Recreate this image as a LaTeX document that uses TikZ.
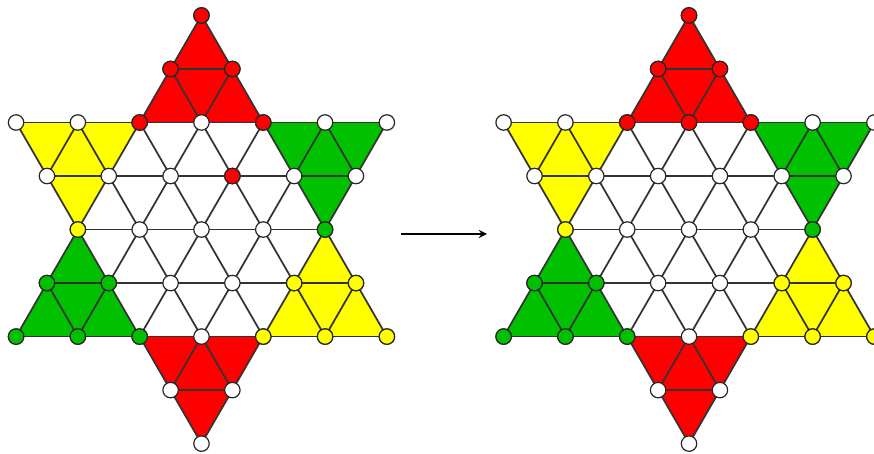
\documentclass[tikz,border=0pt]{standalone}
\usetikzlibrary{arrows}

\definecolor{rouge}{RGB}{255,0,0}
\definecolor{jaune}{RGB}{255,255,0}
\definecolor{vert}{RGB}{0,192,0}

\tikzset{
  ligne/.style={black!80, line width=0.8pt},
  trou/.style={draw=black!85, line width=0.55pt, fill=#1},
  trou/.default=white
}

% Plateau : branches, lignes, trous (#1 = trous rouges)
\newcommand{\plateau}[1]{%
  \foreach \ang/\coul in {0/rouge,60/jaune,120/vert,180/rouge,240/jaune,300/vert}
    \fill[\coul, rotate=\ang] (0,3.464) -- (-1,1.732) -- (1,1.732) -- cycle;
  \foreach \ang in {0,60,120}
    \foreach \r/\l in {3/0.5,2/3,1/2.5,0/2,-1/2.5,-2/3,-3/0.5}
      \draw[ligne, rotate=\ang] (-\l,\r*0.866) -- (\l,\r*0.866);
  \foreach \r/\liste in {4/{0},3/{-1,1},2/{-6,-4,-2,0,2,4,6},1/{-5,-3,-1,1,3,5},0/{-4,-2,0,2,4},-1/{-5,-3,-1,1,3,5},-2/{-6,-4,-2,0,2,4,6},-3/{-1,1},-4/{0}}
    \foreach \c in \liste
      \draw[trou] (\c*0.5,\r*0.866) circle (0.125);
  % Pions
  \foreach \c/\r in {#1}
    \draw[trou=rouge] (\c*0.5,\r*0.866) circle (0.125);
  \foreach \c/\r in {-4/0,3/-1,5/-1,2/-2,4/-2,6/-2}
    \draw[trou=jaune] (\c*0.5,\r*0.866) circle (0.125);
  \foreach \c/\r in {4/0,-5/-1,-3/-1,-6/-2,-4/-2,-2/-2}
    \draw[trou=vert] (\c*0.5,\r*0.866) circle (0.125);
}

\begin{document}
\begin{tikzpicture}
    \useasboundingbox (0,0) rectangle (14.142,-7.330);

    % Avant
    \begin{scope}[shift={(3.260,-3.714)}]
        \plateau{0/4,-1/3,1/3,-2/2,2/2,1/1}
    \end{scope}

    % Apres
    \begin{scope}[shift={(11.149,-3.714)}]
        \plateau{0/4,-1/3,1/3,-2/2,0/2,2/2}
    \end{scope}

    % Fleche
    \coordinate (depart) at (6.489,-3.786);
    \coordinate (arrivee) at (7.880,-3.786);
    \draw[->, >=stealth, line width=0.7pt] (depart) -- (arrivee);
\end{tikzpicture}
\end{document}
